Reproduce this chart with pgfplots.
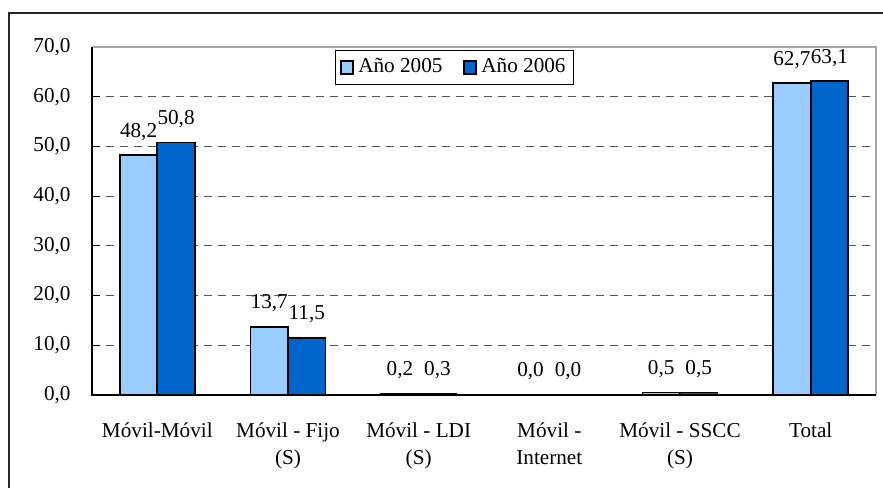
\documentclass[border=0pt]{standalone}
\usepackage{fontspec}
\setmainfont{Liberation Serif}
\usepackage{pgfplots}
\pgfplotsset{compat=1.18}

\definecolor{lightbar}{HTML}{99CCFF}
\definecolor{darkbar}{HTML}{0066CC}
\definecolor{gridgray}{HTML}{555555}

\begin{document}
\fontsize{10.6}{13.5}\selectfont
\begin{tikzpicture}
\path[use as bounding box] (0,0) rectangle (441.5pt,243.5pt);
\draw[line width=0.8pt, black!85] (4.5pt,-1pt) -- (4.5pt,237pt) -- (443pt,237pt);
\begin{axis}[
    at={(46pt,46pt)}, anchor=south west,
    scale only axis,
    width=392pt, height=174pt,
    ybar=0pt, bar width=18.75pt,
    xmin=-0.5, xmax=5.5,
    ymin=0, ymax=70,
    xtick={0,...,5},
    xticklabels={M\'ovil-M\'ovil, {M\'ovil - Fijo\\(S)}, {M\'ovil - LDI\\(S)}, {M\'ovil -\\Internet}, {M\'ovil - SSCC\\(S)}, Total},
    xticklabel style={align=center, yshift=-6pt, font=\fontsize{10.6}{13.5}\selectfont},
    xtick style={draw=none},
    extra x ticks={0.5,1.5,2.5,3.5,4.5},
    extra x tick labels={},
    extra x tick style={major tick length=4pt, tick style={draw=black, line width=0.5pt}},
    ytick={0,10,...,70},
    ytick pos=left, xtick pos=left,
    ytick style={black, line width=0.5pt},
    major tick length=4pt,
    yticklabel style={xshift=-7pt, font=\fontsize{10.6}{13.5}\selectfont},
    /pgf/number format/.cd, use comma, fixed, fixed zerofill, precision=1, assume math mode=true,
    /pgfplots/.cd,
    ymajorgrids,
    grid style={gridgray, dash pattern=on 4pt off 3pt, line width=0.5pt},
    axis line style={draw=none},
    nodes near coords,
    every node near coord/.append style={font=\fontsize{10.6}{13.5}\selectfont, yshift=3.5pt, black},
    legend style={at={(0.31,0.991)}, anchor=north west, draw=black, line width=0.5pt,
        font=\fontsize{10.6}{13.5}\selectfont, legend columns=2,
        /tikz/every even column/.append style={column sep=8pt},
        inner sep=2pt},
    legend image code/.code={\draw[#1, draw=black, line width=1pt] (0pt,-3.2pt) rectangle (6.4pt,3.2pt);},
    after end axis/.code={
        \draw[gray!70, line width=0.8pt] (rel axis cs:0,1) -- (rel axis cs:1,1) -- (rel axis cs:1,0);
        \draw[black, line width=0.8pt] (rel axis cs:0,1) -- (rel axis cs:0,0) -- (rel axis cs:1,0);
    },
]
\addplot[fill=lightbar, draw=black, line width=0.9pt] coordinates {
    (0,48.2) (1,13.7) (2,0.2) (3,0.0) (4,0.5) (5,62.7)
};
\addplot[fill=darkbar, draw=black, line width=0.9pt] coordinates {
    (0,50.8) (1,11.5) (2,0.3) (3,0.0) (4,0.5) (5,63.1)
};
\legend{A\~no 2005, A\~no 2006}
\end{axis}
\end{tikzpicture}
\end{document}
